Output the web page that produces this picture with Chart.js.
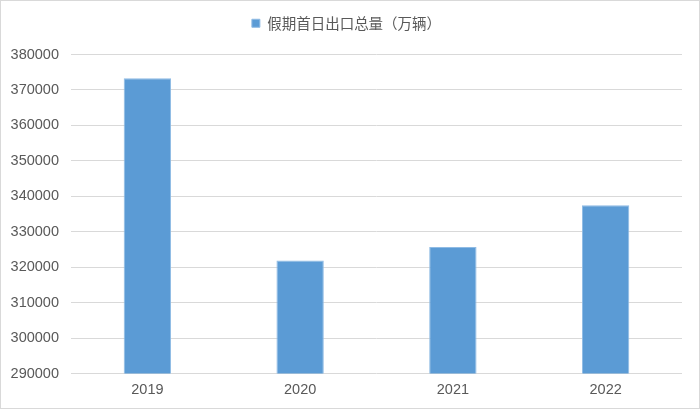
<!DOCTYPE html>
<html>
<head>
<meta charset="utf-8">
<script src="https://cdn.jsdelivr.net/npm/chart.js@4.4.1/dist/chart.umd.min.js"></script>
<style>
  html, body { margin: 0; padding: 0; background: #fff; }
  #wrap { width: 700px; height: 409px; box-sizing: border-box; border: 1px solid #d9d9d9; }
</style>
</head>
<body>
<div id="wrap"><canvas id="c" width="698" height="407"></canvas></div>
<script>
// data
const years = ['2019', '2020', '2021', '2022'];
const exportTotals = [373300, 321900, 325700, 337500];
const seriesName = '假期首日出口总量（万辆）';
const yMin = 290000;
const yMax = 380000;
const yStep = 10000;

// push the plot area down below the legend
const legendGap = {
    id: 'legendGap',
    beforeInit(chart) {
        const fit = chart.legend.fit;
        chart.legend.fit = function () {
            fit.bind(chart.legend)();
            this.height += 14;
        };
    },
};

const gray = '#595959';

new Chart(document.getElementById('c'), {
    type: 'bar',
    data: {
        labels: years,
        datasets: [{
            label: seriesName,
            data: exportTotals,
            backgroundColor: '#5b9bd5',
            borderColor: '#8fbbe4',
            borderWidth: 1,
            barPercentage: 0.31,
            categoryPercentage: 1,
        }],
    },
    options: {
        responsive: false,
        animation: false,
        layout: { padding: { top: 5, left: 10, right: 17, bottom: 1 } },
        plugins: {
            legend: {
                position: 'top',
                labels: {
                    boxWidth: 8,
                    boxHeight: 8,
                    padding: 10,
                    color: gray,
                    font: { family: "'Noto Sans CJK SC', 'Liberation Sans', sans-serif", size: 14.5 },
                },
            },
            tooltip: { enabled: false },
        },
        scales: {
            x: {
                grid: { display: false, drawTicks: false },
                border: { display: false },
                ticks: {
                    color: gray,
                    padding: 8,
                    font: { family: "'Liberation Sans', Arial, sans-serif", size: 14.5 },
                },
            },
            y: {
                min: yMin,
                max: yMax,
                grid: { color: '#d9d9d9', drawTicks: false },
                border: { display: false },
                afterFit: (scale) => { scale.width = 60; },
                ticks: {
                    stepSize: yStep,
                    color: gray,
                    padding: 12,
                    callback: (v) => String(v),
                    font: { family: "'Liberation Sans', Arial, sans-serif", size: 14.5 },
                },
            },
        },
    },
    plugins: [legendGap],
});
</script>
</body>
</html>
